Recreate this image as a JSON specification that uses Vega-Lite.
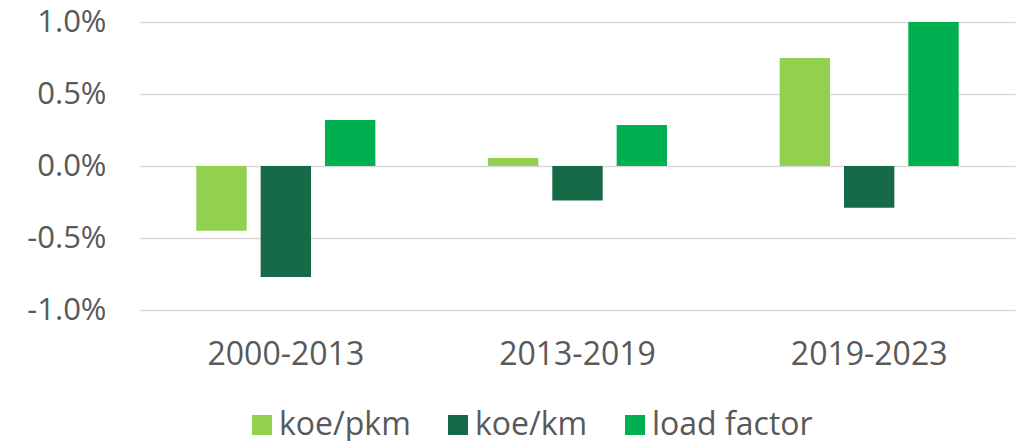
{
  "$schema": "https://vega.github.io/schema/vega-lite/v6.json",
  "autosize": "none",
  "width": 875,
  "height": 288,
  "padding": {"left": 140, "top": 22, "right": 10, "bottom": 131},
  "background": "white",
  "config": {
    "font": "Open Sans",
    "view": {"stroke": null}
  },
  "data": {
    "values": [
      {"period": "2000-2013", "series": "koe/pkm", "value": -0.0045},
      {"period": "2000-2013", "series": "koe/km", "value": -0.0077},
      {"period": "2000-2013", "series": "load factor", "value": 0.0032},
      {"period": "2013-2019", "series": "koe/pkm", "value": 0.00055},
      {"period": "2013-2019", "series": "koe/km", "value": -0.0024},
      {"period": "2013-2019", "series": "load factor", "value": 0.00285},
      {"period": "2019-2023", "series": "koe/pkm", "value": 0.0075},
      {"period": "2019-2023", "series": "koe/km", "value": -0.0029},
      {"period": "2019-2023", "series": "load factor", "value": 0.01}
    ]
  },
  "mark": {"type": "bar"},
  "encoding": {
    "x": {
      "field": "period",
      "type": "nominal",
      "sort": null,
      "scale": {"paddingInner": 0.386, "paddingOuter": 0.193},
      "axis": {
        "title": null,
        "labelAngle": 0,
        "labelFontSize": 32,
        "labelColor": "#595959",
        "labelPadding": 29,
        "ticks": false,
        "domain": false
      }
    },
    "xOffset": {
      "field": "series",
      "type": "nominal",
      "sort": ["koe/pkm", "koe/km", "load factor"],
      "scale": {"paddingInner": 0.217, "paddingOuter": 0}
    },
    "y": {
      "field": "value",
      "type": "quantitative",
      "scale": {"domain": [-0.01, 0.01], "nice": false},
      "axis": {
        "title": null,
        "values": [-0.01, -0.005, 0, 0.005, 0.01],
        "labelExpr": "replace(format(datum.value, '.1%'), '\u2212', '-')",
        "labelFontSize": 31,
        "labelColor": "#595959",
        "labelPadding": 34,
        "ticks": false,
        "domain": false,
        "grid": true,
        "gridColor": "#d9d9d9",
        "gridWidth": 1.5
      }
    },
    "color": {
      "field": "series",
      "type": "nominal",
      "sort": ["koe/pkm", "koe/km", "load factor"],
      "scale": {
        "domain": ["koe/pkm", "koe/km", "load factor"],
        "range": ["#92D050", "#176A48", "#00B050"]
      },
      "legend": {
        "title": null,
        "orient": "none",
        "direction": "horizontal",
        "legendX": 106,
        "legendY": 387,
        "symbolType": "square",
        "symbolSize": 400,
        "symbolStrokeWidth": 0,
        "labelFontSize": 32,
        "labelColor": "#595959",
        "labelOffset": 1,
        "labelLimit": 400,
        "columnPadding": 31
      }
    }
  }
}
